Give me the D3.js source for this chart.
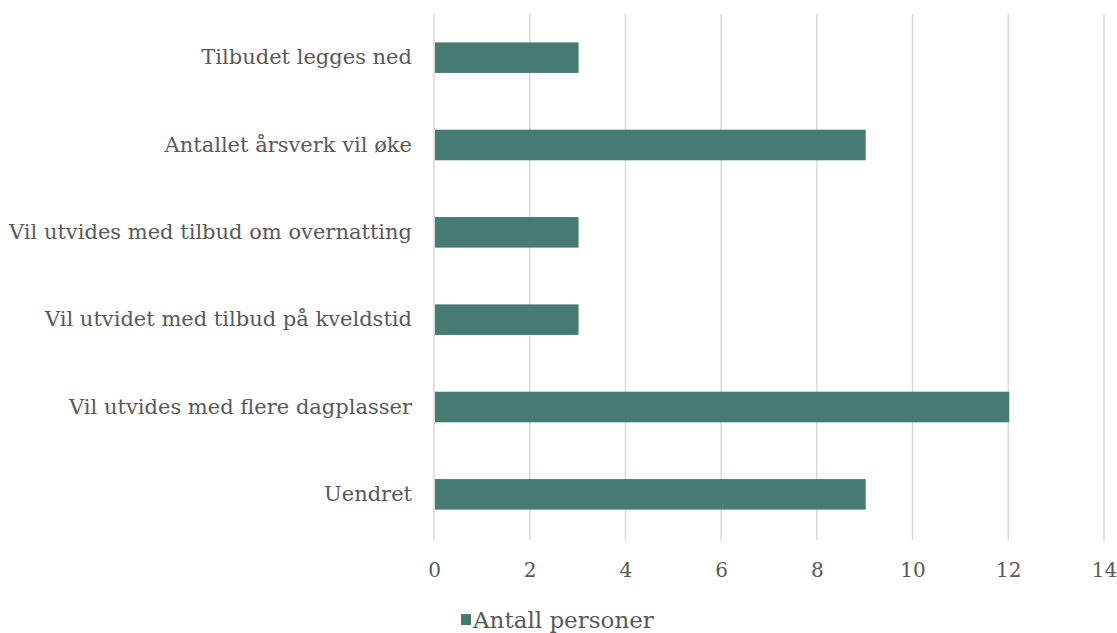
<!DOCTYPE html>
<html>
<head>
<meta charset="utf-8">
<script src="https://cdn.jsdelivr.net/npm/d3@7"></script>
<style>
  body { margin: 0; background: #fff; }
  svg text { font-family: "DejaVu Serif", "Liberation Serif", serif; fill: #595959; }
</style>
</head>
<body>
<svg id="chart" width="1117" height="633"></svg>
<script>
"use strict"

// Categories top to bottom, as in the picture
const categories = [
	"Tilbudet legges ned",
	"Antallet årsverk vil øke",
	"Vil utvides med tilbud om overnatting",
	"Vil utvidet med tilbud på kveldstid",
	"Vil utvides med flere dagplasser",
	"Uendret"
]
const values = [3, 9, 3, 3, 12, 9]
const xTicks = [0, 2, 4, 6, 8, 10, 12, 14]
const seriesName = "Antall personer"

const margins = { left: 434, right: 13, top: 14, bottom: 95 }
const width = 1117 - margins.left - margins.right
const height = 633 - margins.top - margins.bottom
const barColor = "#467b72"

const svg = d3.select("#chart")

const xScale = d3.scaleLinear().domain([0, 14]).range([0, width])
const yScale = d3.scaleBand().domain(categories).range([0, height]).paddingInner(0.65).paddingOuter(0.325)

const g = svg.append("g")
	.attr("transform", "translate(" + margins.left + "," + margins.top + ")")

// Vertical gridlines
g.selectAll(".grid")
	.data(xTicks)
	.enter()
	.append("line")
	.attr("class", "grid")
	.attr("x1", d => xScale(d))
	.attr("x2", d => xScale(d))
	.attr("y1", 0)
	.attr("y2", height + 2)
	.attr("stroke", "#d9d9d9")
	.attr("stroke-width", 1.5)

// Bars
g.selectAll(".bar")
	.data(values)
	.enter()
	.append("rect")
	.attr("class", "bar")
	.attr("x", xScale(0) + 1)
	.attr("y", (d, i) => yScale(categories[i]))
	.attr("width", d => xScale(d) - xScale(0))
	.attr("height", yScale.bandwidth())
	.attr("fill", barColor)

// X axis labels
const xAxis = d3.axisBottom(xScale).tickValues(xTicks).tickSize(0).tickPadding(0)
g.append("g")
	.attr("transform", "translate(0," + (height + 33) + ")")
	.call(xAxis)
	.call(s => s.select(".domain").remove())
	.selectAll("text")
	.style("font-size", "20px")
	.attr("dy", "0.32em")
	.attr("y", 0)

// Y axis labels
const yAxis = d3.axisLeft(yScale).tickSize(0).tickPadding(22)
g.append("g")
	.call(yAxis)
	.call(s => s.select(".domain").remove())
	.selectAll("text")
	.style("font-size", "21px")

// Legend
const legend = svg.append("g").attr("transform", "translate(461,620)")
legend.append("rect")
	.attr("x", 0).attr("y", -6)
	.attr("width", 10).attr("height", 11)
	.attr("fill", barColor)
legend.append("text")
	.attr("x", 12).attr("y", 0)
	.attr("dy", "0.35em")
	.style("font-size", "23px")
	.text(seriesName)
</script>
</body>
</html>
